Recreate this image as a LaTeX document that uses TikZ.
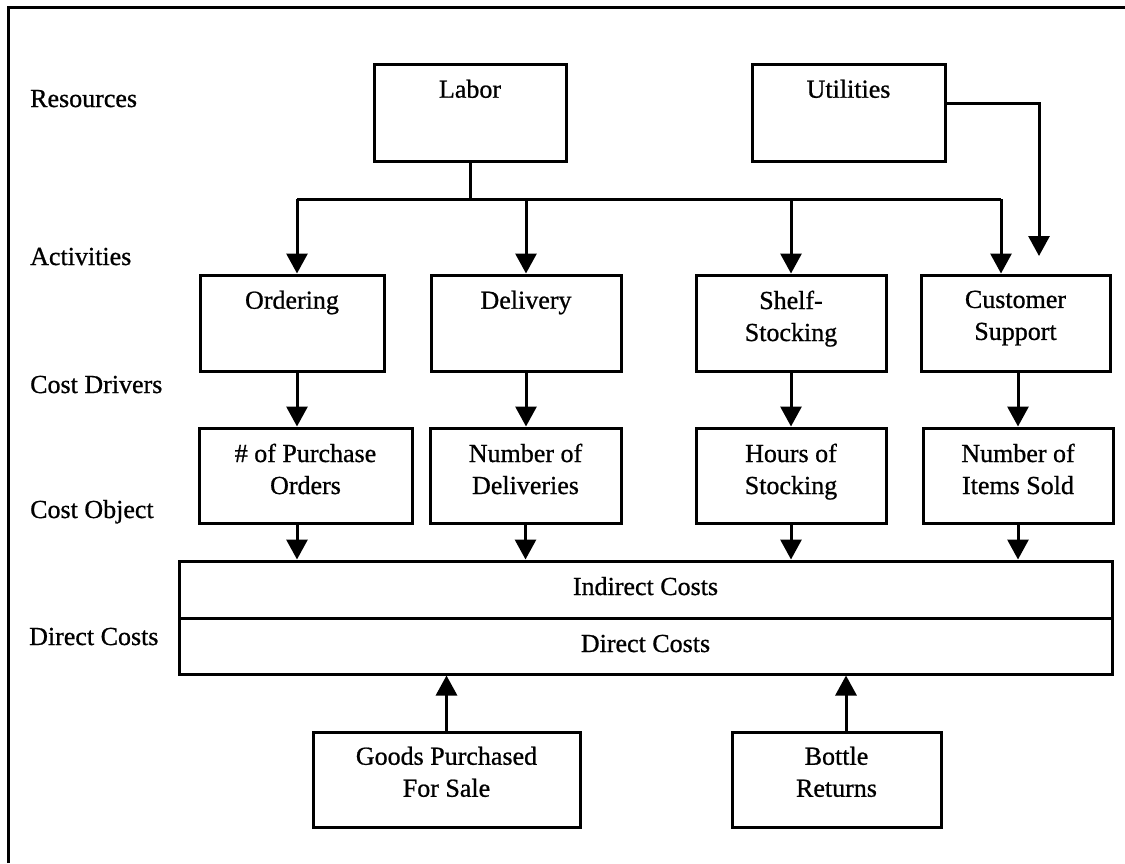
\documentclass[tikz,border=0pt]{standalone}
\usepackage{fontspec}
\setmainfont{Liberation Serif}[FakeBold=0.8]
\usetikzlibrary{arrows.meta}
\begin{document}
\begin{tikzpicture}[x=1pt,y=-1pt,
  box/.style={draw, line width=3pt, inner sep=0pt},
  txt/.style={font=\fontsize{26}{32}\selectfont, align=center, inner sep=0pt, anchor=north},
  wide/.style={draw, line width=3pt, inner sep=0pt, minimum width=933pt, font=\fontsize{26}{32}\selectfont},
  lab/.style={font=\fontsize{26}{32}\selectfont, anchor=base west, inner sep=0pt},
  conn/.style={line width=3pt},
  arr/.style={line width=3pt, -{Triangle[length=20pt,width=21pt]}}]
\useasboundingbox (0,0) rectangle (1125,863);
\draw[line width=3pt] (8,863) -- (8,7) -- (1125,7);

% left labels
\node[lab] (lres) at (30,107) {Resources};
\node[lab] (lact) at (30,265) {Activities};
\node[lab] (ldrv) at (30,393) {Cost Drivers};
\node[lab] (lobj) at (30,518) {Cost Object};
\node[lab] (ldir) at (29,645) {Direct Costs};

% resources
\node[box, minimum width=192pt, minimum height=97pt] (labor) at (470,112.5) {};
\node[box, minimum width=193pt, minimum height=97pt] (util) at (848.5,112.5) {};
\node[txt] (laborT) at ([yshift=-17pt]labor.north) {Labor};
\node[txt] (utilT) at ([yshift=-17pt]util.north) {Utilities};

% activities
\node[box, minimum width=184pt, minimum height=96pt] (ord) at (292,323) {};
\node[box, minimum width=190pt, minimum height=96pt] (del) at (526,323) {};
\node[box, minimum width=190pt, minimum height=96pt] (shelf) at (791,323) {};
\node[box, minimum width=189pt, minimum height=96pt] (cust) at (1015.5,323) {};
\node[txt] (ordT) at ([yshift=-17pt]ord.north) {Ordering};
\node[txt] (delT) at ([yshift=-17pt]del.north) {Delivery};
\node[txt] (shelfT) at ([yshift=-17pt]shelf.north) {Shelf-\\Stocking};
\node[txt] (custT) at ([yshift=-17pt]cust.north) {Customer\\Support};

% cost drivers
\node[box, minimum width=213pt, minimum height=95pt] (pur) at (305.5,475.5) {};
\node[box, minimum width=191pt, minimum height=95pt] (ndel) at (525.5,475.5) {};
\node[box, minimum width=190pt, minimum height=95pt] (hours) at (791,475.5) {};
\node[box, minimum width=190pt, minimum height=95pt] (items) at (1018,475.5) {};
\node[txt] (purT) at ([yshift=-17pt]pur.north) {\# of Purchase\\Orders};
\node[txt] (ndelT) at ([yshift=-17pt]ndel.north) {Number of\\Deliveries};
\node[txt] (hoursT) at ([yshift=-17pt]hours.north) {Hours of\\Stocking};
\node[txt] (itemsT) at ([yshift=-17pt]items.north) {Number of\\Items Sold};

% cost object
\node[wide, minimum height=57pt] (ind) at (645.5,589.5) {};
\node[wide, minimum height=56pt] (dir) at (645.5,646) {};
\node[txt, anchor=base] (indT) at (645.5,595) {Indirect Costs};
\node[txt, anchor=base] (dirT) at (645.5,652) {Direct Costs};

% direct sources
\node[box, minimum width=267pt, minimum height=95pt] (goods) at (446.5,779.5) {};
\node[box, minimum width=209pt, minimum height=95pt] (bottle) at (836.5,779.5) {};
\node[txt] (goodsT) at ([yshift=-16pt]goods.north) {Goods Purchased\\For Sale};
\node[txt] (bottleT) at ([yshift=-16pt]bottle.north) {Bottle\\Returns};

% connectors
\coordinate (hub) at (470,199);
\coordinate (bl) at (297,199);
\coordinate (br) at (1001,199);
\coordinate (ue) at (1039,256);
\coordinate (bt) at ([xshift=9.5pt]bottle.north);

\draw[conn] (labor.south) -- (hub);
\draw[conn] (bl) -- (br);
\draw[arr] (bl) -- (bl |- ord.north);
\draw[arr] (del.north |- hub) -- (del.north);
\draw[arr] (shelf.north |- hub) -- (shelf.north);
\draw[arr] (br) -- (br |- cust.north);
\draw[arr] ([yshift=9.5pt]util.east) -| (ue);

\draw[arr] (bl |- ord.south) -- (bl |- pur.north);
\draw[arr] (del.south) -- (ndel.north -| del.south);
\draw[arr] (shelf.south) -- (hours.north);
\draw[arr] (items.north |- cust.south) -- (items.north);

\draw[arr] (bl |- pur.south) -- (bl |- ind.north);
\draw[arr] (ndel.south) -- (ind.north -| ndel.south);
\draw[arr] (hours.south) -- (ind.north -| hours.south);
\draw[arr] (items.south) -- (ind.north -| items.south);

\draw[arr] (goods.north) -- (dir.south -| goods.north);
\draw[arr] (bt) -- (bt |- dir.south);
\end{tikzpicture}
\end{document}
